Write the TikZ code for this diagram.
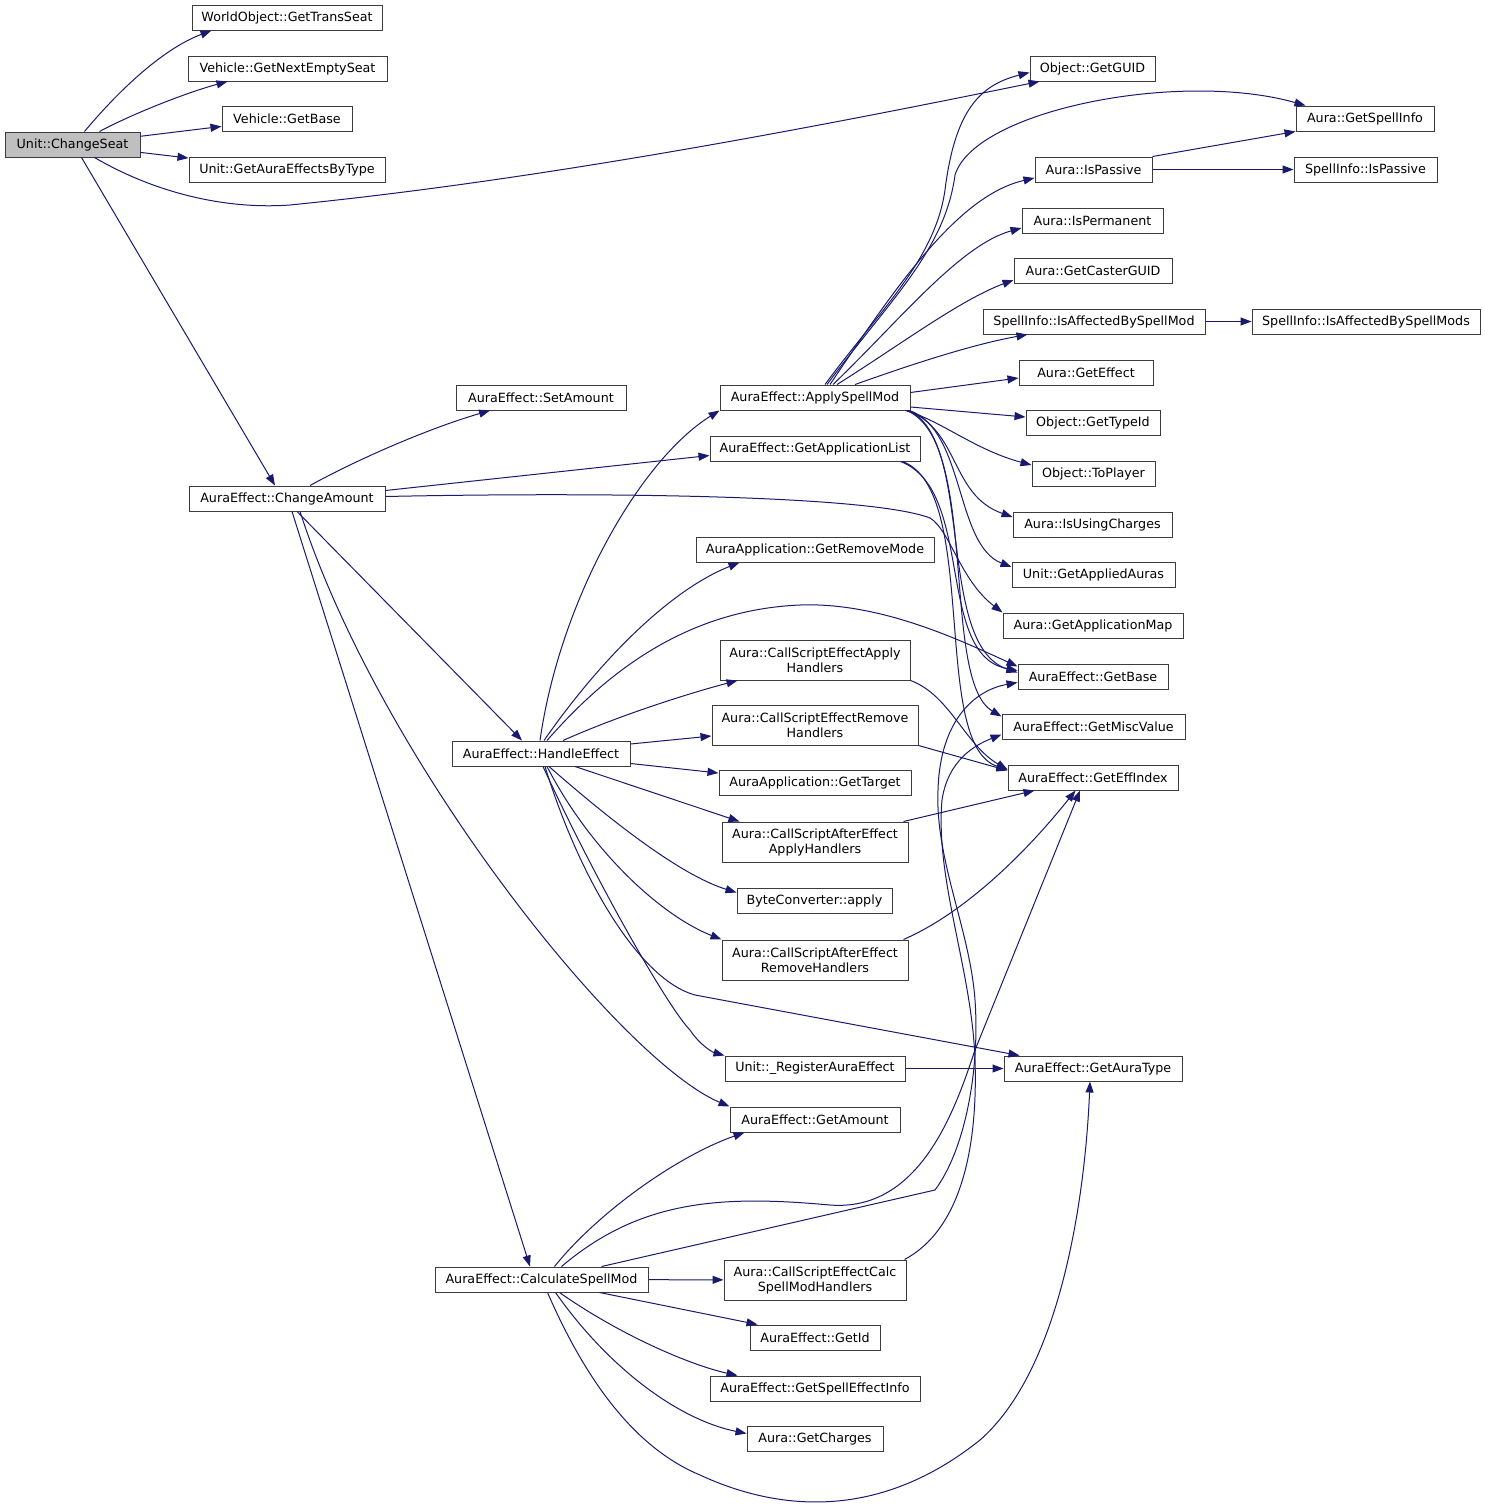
\documentclass[tikz,border=0pt]{standalone}
\usepackage{fontspec}
\newfontfamily\dvs{DejaVu Sans}
\usetikzlibrary{arrows.meta}
\definecolor{edgeblue}{RGB}{25,25,112}
\definecolor{boxgray}{RGB}{191,191,191}
\definecolor{boxline}{RGB}{60,60,60}
\begin{document}
\begin{tikzpicture}[x=1pt,y=-1pt,
  box/.style={draw=boxline, line width=1pt, fill=white, inner sep=0pt,
    minimum height=25pt, font=\dvs\fontsize{12.7}{15}\selectfont},
  twoline/.style={box, minimum height=40pt, align=center},
  e/.style={draw=edgeblue, line width=1pt,
    -{Triangle[length=11pt,width=8pt]}, fill=none}]
\fill[white] (0,0) rectangle (1485,1510);
\useasboundingbox (0,0) rectangle (1485,1510);
% left column
\node[box, fill=boxgray, minimum width=135pt] (cs) at (72.5,144.5) {Unit::ChangeSeat};
\node[box, minimum width=190pt] (wots) at (287,17.5) {WorldObject::GetTransSeat};
\node[box, minimum width=199pt] (vnes) at (287.5,68.5) {Vehicle::GetNextEmptySeat};
\node[box, minimum width=130pt] (vgb) at (287,118.5) {Vehicle::GetBase};
\node[box, minimum width=196pt] (uaebt) at (287,169.5) {Unit::GetAuraEffectsByType};
\node[box, minimum width=196pt] (ca) at (287,498.5) {AuraEffect::ChangeAmount};
\node[box, minimum width=170pt] (sa) at (541,397.5) {AuraEffect::SetAmount};
\node[box, minimum width=178pt] (he) at (541,753.5) {AuraEffect::HandleEffect};
\node[box, minimum width=213pt] (csm) at (541.5,1279.5) {AuraEffect::CalculateSpellMod};
% middle column
\node[box, minimum width=190pt] (asm) at (815,397.5) {AuraEffect::ApplySpellMod};
\node[box, minimum width=210pt] (gal) at (815,448.5) {AuraEffect::GetApplicationList};
\node[box, minimum width=238pt] (grm) at (815,549.5) {AuraApplication::GetRemoveMode};
\node[twoline, minimum width=190pt] (csea) at (815,660) {Aura::CallScriptEffectApply\\Handlers};
\node[twoline, minimum width=206pt] (cser) at (815,725) {Aura::CallScriptEffectRemove\\Handlers};
\node[box, minimum width=192pt] (gt) at (815,782.5) {AuraApplication::GetTarget};
\node[twoline, minimum width=186pt] (csaea) at (815,842) {Aura::CallScriptAfterEffect\\ApplyHandlers};
\node[box, minimum width=155pt] (bca) at (814.5,900.5) {ByteConverter::apply};
\node[twoline, minimum width=186pt] (csaer) at (815,960) {Aura::CallScriptAfterEffect\\RemoveHandlers};
\node[box, minimum width=180pt] (rae) at (815,1068.5) {Unit::\_RegisterAuraEffect};
\node[box, minimum width=170pt] (gam) at (815,1119.5) {AuraEffect::GetAmount};
\node[twoline, minimum width=182pt] (cscs) at (815,1280) {Aura::CallScriptEffectCalc\\SpellModHandlers};
\node[box, minimum width=130pt] (gid) at (815,1337.5) {AuraEffect::GetId};
\node[box, minimum width=210pt] (gsei) at (815,1388.5) {AuraEffect::GetSpellEffectInfo};
\node[box, minimum width=136pt] (gch) at (815,1438.5) {Aura::GetCharges};
% right column
\node[box, minimum width=125pt] (guid) at (1092.5,68.5) {Object::GetGUID};
\node[box, minimum width=138pt] (gsi) at (1365,118.5) {Aura::GetSpellInfo};
\node[box, minimum width=117pt] (aip) at (1093.5,169.5) {Aura::IsPassive};
\node[box, minimum width=143pt] (sip) at (1365.5,169.5) {SpellInfo::IsPassive};
\node[box, minimum width=141pt] (aiperm) at (1092.5,220.5) {Aura::IsPermanent};
\node[box, minimum width=158pt] (gcg) at (1093,270.5) {Aura::GetCasterGUID};
\node[box, minimum width=222pt] (iabsm) at (1094,321.5) {SpellInfo::IsAffectedBySpellMod};
\node[box, minimum width=228pt] (iabsms) at (1366,321.5) {SpellInfo::IsAffectedBySpellMods};
\node[box, minimum width=134pt] (ge) at (1086,372.5) {Aura::GetEffect};
\node[box, minimum width=134pt] (gti) at (1093,422.5) {Object::GetTypeId};
\node[box, minimum width=123pt] (tp) at (1093.5,473.5) {Object::ToPlayer};
\node[box, minimum width=159pt] (iuc) at (1092.5,524.5) {Aura::IsUsingCharges};
\node[box, minimum width=163pt] (gaa) at (1093.5,574.5) {Unit::GetAppliedAuras};
\node[box, minimum width=180pt] (gam2) at (1093,625.5) {Aura::GetApplicationMap};
\node[box, minimum width=150pt] (aegb) at (1093,676.5) {AuraEffect::GetBase};
\node[box, minimum width=183pt] (gmv) at (1093.5,726.5) {AuraEffect::GetMiscValue};
\node[box, minimum width=170pt] (gei) at (1093,777.5) {AuraEffect::GetEffIndex};
\node[box, minimum width=178pt] (gat) at (1093,1068.5) {AuraEffect::GetAuraType};

% edges from Unit::ChangeSeat
\draw[e] ([xshift=80pt]cs.north west) .. controls (115,95) and (160,50) .. ([xshift=20pt]wots.south west);
\draw[e] ([xshift=95pt]cs.north west) .. controls (130,115) and (185,93) .. ([xshift=40pt]vnes.south west);
\draw[e] (cs) -- (vgb);
\draw[e] (cs) -- (uaebt);
\draw[e] ([xshift=90pt]cs.south west) .. controls (150,190) and (220,210) .. (290,205) .. controls (560,178) and (850,120) .. ([xshift=10pt]guid.south west);
\draw[e] ([xshift=77pt]cs.south west) -- ([xshift=-12pt]ca.north);
% edges from AuraEffect::ChangeAmount
\draw[e] ([xshift=23pt]ca.north) .. controls (360,458) and (430,428) .. ([xshift=-51pt]sa.south);
\draw[e] ([yshift=8pt]ca.east) -- ([yshift=-7pt]gal.west);
\draw[e] ([xshift=10pt]ca.south) -- ([xshift=-19pt]he.north);
\draw[e] ([xshift=13pt]ca.south) .. controls (380,760) and (620,1060) .. (gam.north west);
\draw[e] ([xshift=5pt]ca.south) -- ([xshift=-11.5pt]csm.north);
\draw[e] ([yshift=2pt]ca.east) .. controls (600,492) and (870,495) .. (930,518) .. controls (950,530) and (960,580) .. (gam2.north west);
% edges from AuraEffect::GetApplicationList
\draw[e] ([xshift=-20pt]gal.south east) .. controls (975,490) and (935,655) .. ([yshift=6pt]aegb.west);
\draw[e] ([xshift=-18pt]gal.south east) .. controls (980,490) and (930,745) .. ([yshift=8pt]gei.west);
% edges from AuraEffect::ApplySpellMod
\draw[e] ([xshift=10pt]asm.north) .. controls (880,310) and (935,260) .. (945,190) .. controls (955,110) and (980,85) .. ([yshift=-4pt]guid.west);
\draw[e] ([xshift=12pt]asm.north) .. controls (890,300) and (945,250) .. (955,175) .. controls (975,110) and (1180,70) .. ([xshift=10pt]gsi.north west);
\draw[e] ([xshift=15pt]asm.north) .. controls (900,280) and (960,195) .. ([yshift=-8.5pt]aip.west);
\draw[e] ([xshift=18pt]asm.north) .. controls (900,320) and (960,245) .. ([yshift=-7.5pt]aiperm.west);
\draw[e] ([xshift=22pt]asm.north) .. controls (900,345) and (960,300) .. ([yshift=-9.5pt]gcg.west);
\draw[e] ([xshift=40pt]asm.north) .. controls (910,365) and (970,345) .. ([xshift=45pt]iabsm.south west);
\draw[e] ([yshift=5pt]asm.east) -- ([yshift=-5.5pt]ge.west);
\draw[e] ([yshift=-9.5pt]asm.east) -- ([yshift=5.5pt]gti.west);
\draw[e] ([xshift=-5pt]asm.south east) .. controls (940,420) and (975,450) .. ([yshift=8.5pt]tp.west);
\draw[e] ([xshift=-3pt]asm.south east) .. controls (960,430) and (950,495) .. ([yshift=7.5pt]iuc.west);
\draw[e] ([xshift=-1pt]asm.south east) .. controls (965,430) and (955,545) .. ([yshift=7.5pt]gaa.west);
\draw[e] ([xshift=-2pt]asm.south east) .. controls (975,440) and (935,645) .. ([yshift=4pt]aegb.west);
\draw[e] ([xshift=-4pt]asm.south east) .. controls (980,440) and (940,680) .. ([yshift=10pt]gmv.west);
% edges from AuraEffect::HandleEffect
\draw[e] ([xshift=-1pt]he.north) .. controls (560,600) and (640,460) .. (asm.south west);
\draw[e] ([xshift=3pt]he.north) .. controls (600,660) and (670,590) .. ([xshift=44pt]grm.south west);
\draw[e] ([xshift=6pt]he.north) .. controls (600,680) and (680,610) .. (800,605) .. controls (880,602) and (960,640) .. ([yshift=10pt]aegb.west);
\draw[e] ([xshift=22pt]he.north) .. controls (620,715) and (690,693) .. ([xshift=18pt]csea.south west);
\draw[e] ([yshift=9.5pt]he.east) -- ([yshift=-11pt]cser.west);
\draw[e] ([yshift=-10pt]he.east) -- ([yshift=9.5pt]gt.west);
\draw[e] ([xshift=34pt]he.south) -- ([xshift=18pt]csaea.north west);
\draw[e] ([xshift=8pt]he.south) .. controls (610,820) and (680,875) .. ([yshift=8pt]bca.west);
\draw[e] ([xshift=6pt]he.south) .. controls (590,850) and (660,915) .. (csaer.north west);
\draw[e] ([xshift=4pt]he.south) .. controls (580,880) and (640,980) .. (695,995) -- ([xshift=16pt]gat.north west);
\draw[e] ([xshift=2pt]he.south) .. controls (600,890) and (670,1010) .. (690,1030) .. controls (700,1045) and (712,1052) .. (rae.north west);
% edges into AuraEffect::GetEffIndex
\draw[e] (csea.south east) .. controls (950,695) and (965,745) .. ([yshift=8pt]gei.west);
\draw[e] (cser.south east) -- ([yshift=7pt]gei.west);
\draw[e] ([xshift=-5pt]csaea.north east) -- ([xshift=27pt]gei.south west);
\draw[e] ([xshift=-5pt]csaer.north east) .. controls (960,915) and (1020,860) .. ([xshift=68pt]gei.south west);
\draw[e] (rae) -- (gat);
% edges from AuraEffect::CalculateSpellMod
\draw[e] ([xshift=13pt]csm.north) .. controls (600,1210) and (680,1155) .. ([xshift=15pt]gam.south west);
\draw[e] (csm) -- (cscs);
\draw[e] ([xshift=58pt]csm.south) -- ([xshift=8pt]gid.north west);
\draw[e] ([xshift=18pt]csm.south) .. controls (620,1335) and (690,1365) .. ([xshift=28pt]gsei.north west);
\draw[e] ([xshift=14pt]csm.south) .. controls (610,1370) and (680,1420) .. ([yshift=5pt]gch.west);
\draw[e] ([xshift=6pt]csm.south) .. controls (590,1390) and (640,1450) .. (700,1475) .. controls (780,1512) and (880,1520) .. (980,1440) .. controls (1060,1370) and (1085,1200) .. ([xshift=-3pt]gat.south);
\draw[e] ([xshift=20pt]csm.north) .. controls (640,1200) and (720,1195) .. (830,1205) .. controls (920,1212) and (955,1110) .. (975,1050) -- ([xshift=-13pt]gei.south);
\draw[e] ([xshift=60pt]csm.north) -- (935,1190) .. controls (965,1150) and (980,1070) .. (975,1000) .. controls (970,930) and (935,860) .. (938,790) .. controls (940,720) and (975,690) .. ([yshift=-6pt]aegb.west);
\draw[e] ([xshift=-2pt]cscs.north east) .. controls (960,1230) and (978,1150) .. (975,1060) .. controls (972,970) and (935,880) .. (942,800) .. controls (948,760) and (975,745) .. ([yshift=-8pt]gmv.west);
% right side
\draw[e] (aip.north east) -- (gsi.south west);
\draw[e] (aip) -- (sip);
\draw[e] (iabsm) -- (iabsms);
\end{tikzpicture}
\end{document}
